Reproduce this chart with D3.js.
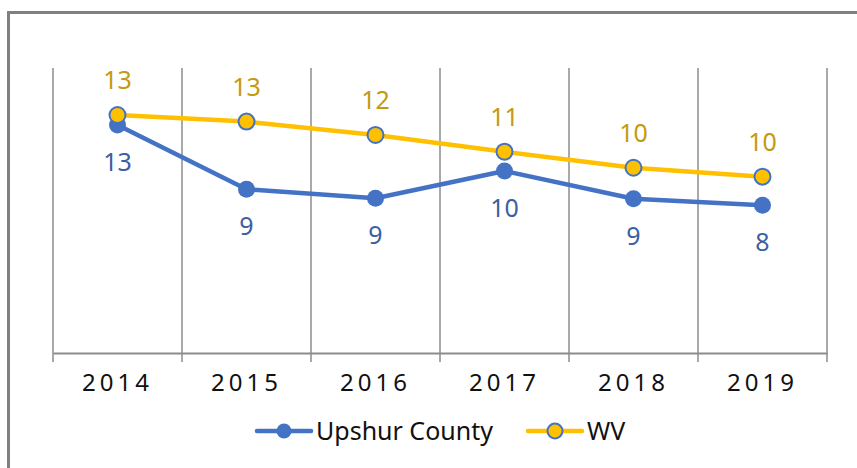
<!DOCTYPE html>
<html>
<head>
<meta charset="utf-8">
<script src="https://cdn.jsdelivr.net/npm/d3@7"></script>
<style>
  html, body { margin: 0; padding: 0; background: #fff; }
  svg { display: block; font-family: "Noto Sans", Lato, sans-serif; }
</style>
</head>
<body>
<div id="chart"></div>
<script>
// chart data
const years = ['2014', '2015', '2016', '2017', '2018', '2019'];
const upshurValues = [12.8, 9.19, 8.69, 10.22, 8.66, 8.29];
const wvValues = [13.36, 12.99, 12.24, 11.30, 10.40, 9.90];
const seriesNames = ['Upshur County', 'WV'];

const width = 857;
const height = 468;
const margin = { top: 68, right: 30, bottom: 115, left: 53 };

const blue = '#4472c4';
const gold = '#ffc000';
const gridColor = '#8c8c8c';
const fontFamily = '"Noto Sans", Lato, sans-serif';

const svg = d3.select('#chart')
  .append('svg')
    .attr('width', width)
    .attr('height', height);

// outer frame (only top and left edges are in view)
svg.append('rect')
  .attr('x', 8.5)
  .attr('y', 12.5)
  .attr('width', 900)
  .attr('height', 500)
  .attr('fill', 'none')
  .attr('stroke', '#808080')
  .attr('stroke-width', 3);

const x = d3.scaleBand()
  .domain(years)
  .range([margin.left, width - margin.right])
  .padding(0);

const y = d3.scaleLinear()
  .domain([0, 16])
  .range([height - margin.bottom, margin.top]);

const cx = d => x(d) + x.bandwidth() / 2;

// vertical gridlines at category boundaries
const edges = years.map(d => x(d)).concat([x.range()[1]]);
svg.append('g')
  .selectAll('line')
  .data(edges)
  .enter()
  .append('line')
    .attr('x1', d => d)
    .attr('x2', d => d)
    .attr('y1', y(16))
    .attr('y2', y(0) + 9)
    .attr('stroke', gridColor)
    .attr('stroke-width', 1.5);

// x axis line + labels
const xAxis = svg.append('g')
  .attr('transform', `translate(0, ${y(0)})`)
  .call(d3.axisBottom(x).tickSize(0).tickPadding(21));
xAxis.select('.domain')
  .attr('stroke', gridColor)
  .attr('stroke-width', 2);
xAxis.selectAll('text')
  .attr('font-size', 24)
  .attr('font-family', fontFamily)
  .attr('letter-spacing', 4)
  .attr('fill', '#111');

const line = d3.line()
  .x((d, i) => cx(years[i]))
  .y(d => y(d));

// Upshur County
svg.append('path')
  .datum(upshurValues)
  .attr('d', line)
  .attr('fill', 'none')
  .attr('stroke', blue)
  .attr('stroke-width', 4.5)
  .attr('stroke-linejoin', 'round');

svg.append('g')
  .selectAll('circle')
  .data(upshurValues)
  .enter()
  .append('circle')
    .attr('cx', (d, i) => cx(years[i]))
    .attr('cy', d => y(d))
    .attr('r', 8.5)
    .attr('fill', blue);

// WV
svg.append('path')
  .datum(wvValues)
  .attr('d', line)
  .attr('fill', 'none')
  .attr('stroke', gold)
  .attr('stroke-width', 4.5)
  .attr('stroke-linejoin', 'round');

svg.append('g')
  .selectAll('circle')
  .data(wvValues)
  .enter()
  .append('circle')
    .attr('cx', (d, i) => cx(years[i]))
    .attr('cy', d => y(d))
    .attr('r', 8)
    .attr('fill', gold)
    .attr('stroke', blue)
    .attr('stroke-width', 2);

// data labels
svg.append('g')
  .selectAll('text')
  .data(upshurValues)
  .enter()
  .append('text')
    .attr('x', (d, i) => cx(years[i]))
    .attr('y', d => y(d) + 46)
    .attr('text-anchor', 'middle')
    .attr('font-size', 25)
    .attr('fill', '#3b5fa3')
    .text(d => d3.format('.0f')(d));

svg.append('g')
  .selectAll('text')
  .data(wvValues)
  .enter()
  .append('text')
    .attr('x', (d, i) => cx(years[i]))
    .attr('y', d => y(d) - 26)
    .attr('text-anchor', 'middle')
    .attr('font-size', 25)
    .attr('fill', '#c49a0f')
    .text(d => d3.format('.0f')(d));

// legend
const legend = svg.append('g')
  .attr('transform', 'translate(257, 431)');

const legendItems = [
  { name: seriesNames[0], color: blue, fill: blue, stroke: 'none', dx: 0 },
  { name: seriesNames[1], color: gold, fill: gold, stroke: blue, dx: 271 }
];

const item = legend.selectAll('g')
  .data(legendItems)
  .enter()
  .append('g')
    .attr('transform', d => `translate(${d.dx}, 0)`);

item.append('line')
  .attr('x1', 0)
  .attr('x2', 54)
  .attr('stroke', d => d.color)
  .attr('stroke-width', 4.5)
  .attr('stroke-linecap', 'round');

item.append('circle')
  .attr('cx', 27)
  .attr('r', 7.5)
  .attr('fill', d => d.fill)
  .attr('stroke', d => d.stroke)
  .attr('stroke-width', 2);

item.append('text')
  .attr('x', 59)
  .attr('dy', '0.35em')
  .attr('font-size', 25)
  .attr('fill', '#111')
  .text(d => d.name);
</script>
</body>
</html>
